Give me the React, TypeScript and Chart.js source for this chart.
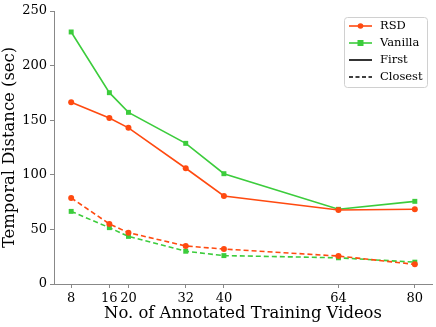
import React, { useEffect, useRef } from "react";
import { Chart, registerables } from "chart.js";

Chart.register(...registerables);

const xValues = [8, 16, 20, 32, 40, 64, 80];
const rsdFirst = [166.5, 152, 143, 106, 80.6, 67.8, 68.4];
const vanillaFirst = [230.8, 175.2, 157.2, 128.8, 101, 68.4, 75.7];
const rsdClosest = [78.8, 55, 47, 34.8, 32, 25.6, 18];
const vanillaClosest = [66.5, 51.6, 43.6, 30, 26, 24, 20];
const yTicks = [0, 50, 100, 150, 200, 250];

const RED = "#ff4a10";
const GREEN = "#3ccc3c";
const FONT = "'DejaVu Serif', serif";

const legendPlugin = {
  id: "customLegend",
  afterDraw(chart: any) {
    const ctx = chart.ctx;
    const x0 = 344, y0 = 17, w = 83, h = 70;
    ctx.save();
    ctx.fillStyle = "rgba(255,255,255,0.85)";
    ctx.strokeStyle = "#d0d0d0";
    ctx.lineWidth = 1;
    ctx.beginPath();
    if (ctx.roundRect) ctx.roundRect(x0 + 0.5, y0 + 0.5, w, h, 3);
    else ctx.rect(x0 + 0.5, y0 + 0.5, w, h);
    ctx.fill();
    ctx.stroke();
    const items = [
      { label: "RSD", color: RED, dash: [], marker: "circle" },
      { label: "Vanilla", color: GREEN, dash: [], marker: "square" },
      { label: "First", color: "#000", dash: [], marker: "" },
      { label: "Closest", color: "#000", dash: [4, 2.5], marker: "" },
    ];
    ctx.font = "11.5px " + FONT;
    ctx.textBaseline = "middle";
    items.forEach((it, i) => {
      const cy = y0 + 9 + i * 17;
      ctx.strokeStyle = it.color;
      ctx.lineWidth = 1.6;
      ctx.setLineDash(it.dash);
      ctx.beginPath();
      ctx.moveTo(349, cy);
      ctx.lineTo(372, cy);
      ctx.stroke();
      ctx.setLineDash([]);
      ctx.fillStyle = it.color;
      if (it.marker === "circle") {
        ctx.beginPath();
        ctx.arc(360.5, cy, 2.8, 0, Math.PI * 2);
        ctx.fill();
      } else if (it.marker === "square") {
        ctx.fillRect(357.5, cy - 3, 6, 6);
      }
      ctx.fillStyle = "#000";
      ctx.fillText(it.label, 380, cy + 0.5);
    });
    ctx.restore();
  },
};

export default function App() {
  const ref = useRef<HTMLCanvasElement>(null);
  useEffect(() => {
    document.body.style.margin = "0";
    const mk = (vals: number[]) => xValues.map((x, i) => ({ x, y: vals[i] }));
    const ds = (data: number[], color: string, dashed: boolean, style: string) => ({
      data: mk(data),
      borderColor: color,
      backgroundColor: color,
      borderWidth: 1.6,
      borderDash: dashed ? [5, 3] : [],
      pointStyle: style,
      pointRadius: style === "rect" ? 3.5 : 3,
      pointBorderWidth: 0,
      tension: 0,
    });
    const chart = new Chart(ref.current!, {
      type: "line",
      data: {
        datasets: [
          ds(rsdFirst, RED, false, "circle"),
          ds(vanillaFirst, GREEN, false, "rect"),
          ds(rsdClosest, RED, true, "circle"),
          ds(vanillaClosest, GREEN, true, "rect"),
        ] as any,
      },
      options: {
        animation: false,
        responsive: false,
        layout: { padding: { top: 11, right: 4, left: 0, bottom: 0 } },
        plugins: { legend: { display: false }, tooltip: { enabled: false } },
        scales: {
          x: {
            type: "linear",
            min: 4.4,
            max: 83.6,
            afterBuildTicks: (s: any) => {
              s.ticks = xValues.map((v) => ({ value: v }));
            },
            afterFit: (s: any) => {
              s.height = 43;
            },
            grid: { drawOnChartArea: false, tickLength: 4, color: "#888", tickColor: "#888" },
            border: { color: "#888", width: 1 },
            ticks: { color: "#000", font: { family: FONT, size: 13 }, padding: 3, maxRotation: 0, autoSkip: false },
            title: { display: true, text: "No. of Annotated Training Videos", color: "#000", font: { family: FONT, size: 16.4 }, padding: { top: 0, bottom: 3 } },
          },
          y: {
            min: 0,
            max: 250,
            afterBuildTicks: (s: any) => {
              s.ticks = yTicks.map((v) => ({ value: v }));
            },
            afterFit: (s: any) => {
              s.width = 54;
            },
            grid: { drawOnChartArea: false, tickLength: 4, color: "#888", tickColor: "#888" },
            border: { color: "#888", width: 1 },
            ticks: { color: "#000", font: { family: FONT, size: 13 }, padding: 3 },
            title: { display: true, text: "Temporal Distance (sec)", color: "#000", font: { family: FONT, size: 16.4 }, padding: { top: 0, bottom: 1 } },
          },
        },
      } as any,
      plugins: [legendPlugin],
    });
    return () => chart.destroy();
  }, []);
  return (
    <div style={{ width: 436, height: 327 }}>
      <canvas ref={ref} width={436} height={327} style={{ display: "block" }} />
    </div>
  );
}
